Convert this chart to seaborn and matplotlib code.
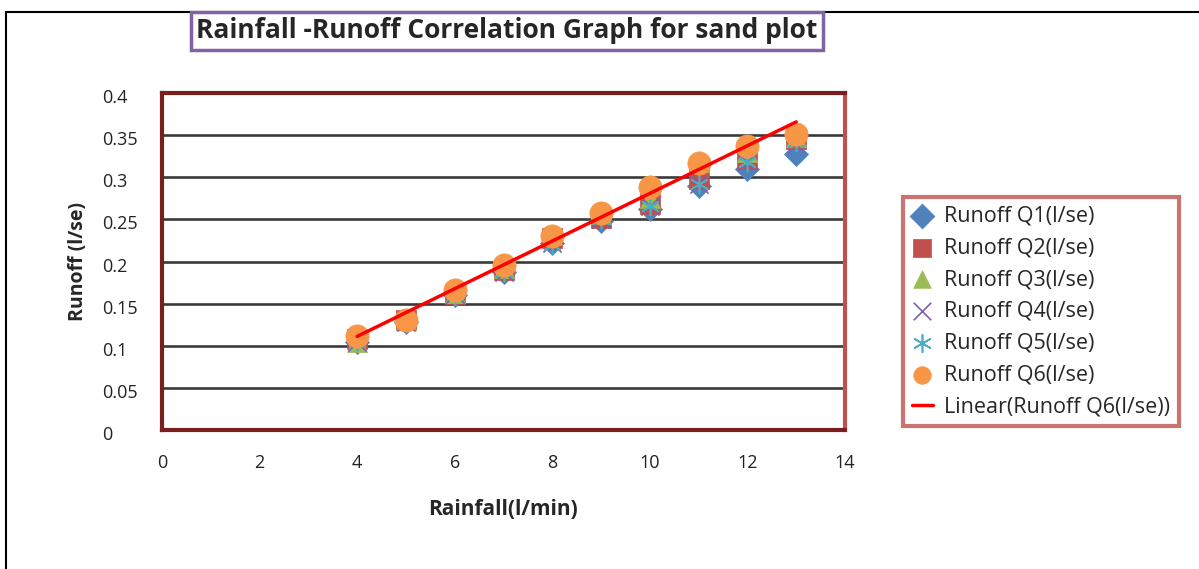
import numpy as np
import pandas as pd
import matplotlib
matplotlib.use('Agg')
import matplotlib.pyplot as plt
import matplotlib.patches as mpatches
import matplotlib.transforms as mtransforms
import seaborn as sns

# data
rainfall = [4, 5, 6, 7, 8, 9, 10, 11, 12, 13]
q1 = [0.105, 0.128, 0.160, 0.188, 0.222, 0.248, 0.262, 0.290, 0.310, 0.328]
q2 = [0.108, 0.130, 0.162, 0.190, 0.228, 0.252, 0.268, 0.298, 0.322, 0.345]
q3 = [0.104, 0.131, 0.163, 0.192, 0.232, 0.256, 0.275, 0.318, 0.330, 0.348]
q4 = [0.104, 0.128, 0.161, 0.188, 0.222, 0.250, 0.266, 0.292, 0.318, 0.340]
q5 = [0.106, 0.129, 0.160, 0.188, 0.220, 0.250, 0.266, 0.292, 0.318, 0.342]
q6 = [0.111, 0.130, 0.166, 0.196, 0.230, 0.258, 0.288, 0.317, 0.337, 0.351]

series_names = ['Runoff Q1(l/se)', 'Runoff Q2(l/se)', 'Runoff Q3(l/se)',
                'Runoff Q4(l/se)', 'Runoff Q5(l/se)', 'Runoff Q6(l/se)']
series_vals = [q1, q2, q3, q4, q5, q6]
colors = ['#4F81BD', '#C0504D', '#9BBB59', '#8064A2', '#4BACC6', '#F79646']
markers = ['D', 's', '^', 'x', (6, 2, 0), 'o']
sizes = [150, 190, 210, 170, 170, 280]

ytick_vals = [0, 0.05, 0.1, 0.15, 0.2, 0.25, 0.3, 0.35, 0.4]
ytick_labels = ['0', '0.05', '0.1', '0.15', '0.2', '0.25', '0.3', '0.35', '0.4']
xtick_vals = [0, 2, 4, 6, 8, 10, 12, 14]

sns.set_style('white')
plt.rcParams['font.family'] = ['Open Sans', 'DejaVu Sans']

fig = plt.figure(figsize=(11.99, 5.69), dpi=100)
ax = fig.add_axes([162 / 1199, 1 - 430 / 569, 683 / 1199, 337 / 569])

for name, vals, c, m, s in zip(series_names, series_vals, colors, markers, sizes):
    if m in ('x', (6, 2, 0)):
        sns.scatterplot(x=rainfall, y=vals, ax=ax, marker=m, color=c, s=s,
                        linewidth=1.2, label=name, zorder=3)
    else:
        sns.scatterplot(x=rainfall, y=vals, ax=ax, marker=m, color=c, s=s,
                        edgecolor=c, linewidth=0.5, label=name, zorder=3)

# linear trendline of Q6
sns.regplot(x=np.array(rainfall), y=np.array(q6), ax=ax, scatter=False, ci=None,
            truncate=True, color='#FF0000', line_kws={'linewidth': 2.5, 'zorder': 4},
            label='Linear(Runoff Q6(l/se))')

ax.set_xlim(0, 14)
ax.set_ylim(0, 0.4)
ax.set_xticks(xtick_vals)
ax.set_yticks(ytick_vals)
ax.set_yticklabels(ytick_labels)
ax.tick_params(axis='x', labelsize=13, length=0, pad=17, labelcolor='#222222')
ax.tick_params(axis='y', labelsize=13, length=0, pad=43, labelcolor='#222222')
shift = mtransforms.ScaledTranslation(0, -3 / 100, fig.dpi_scale_trans)
for lab in ax.get_yticklabels():
    lab.set_horizontalalignment('left')
    lab.set_transform(lab.get_transform() + shift)

ax.yaxis.grid(True, color='#3a3a3a', linewidth=1.9)
ax.set_axisbelow(True)
for side in ['top', 'left', 'bottom']:
    ax.spines[side].set_color('#7B1E1E')
    ax.spines[side].set_linewidth(3)
ax.spines['right'].set_color('#C0504D')
ax.spines['right'].set_linewidth(3)

ax.set_xlabel('Rainfall(l/min)', fontsize=15, fontweight='bold', labelpad=20)
ax.set_ylabel('Runoff (l/se)', fontsize=14, fontweight='bold', labelpad=10)

# title with purple box
fig.text(507 / 1199, 1 - 31 / 569, 'Rainfall -Runoff Correlation Graph for sand plot',
         ha='center', va='center', fontsize=19, fontweight='bold',
         bbox=dict(boxstyle='square,pad=0.2', facecolor='white',
                   edgecolor='#8064A2', linewidth=2.5))

# legend
handles, labels = ax.get_legend_handles_labels()
leg = ax.legend(handles, labels, loc='upper left',
                bbox_to_anchor=(903 / 1199, 1 - 197 / 569),
                bbox_transform=fig.transFigure, frameon=True, fancybox=False,
                prop={'size': 15.5},
                labelspacing=0.5, handlelength=1.0, handletextpad=0.5,
                borderpad=0.4, borderaxespad=0)
leg.get_frame().set_edgecolor('#C0504D')
leg.get_frame().set_linewidth(3)
for h in leg.legend_handles:
    try:
        h.set_sizes([160])
    except AttributeError:
        pass

# outer chart-area frame (top and left edges visible)
fig.add_artist(mpatches.Rectangle((6 / 1199, -0.1), 1.2, 1.1 - 12 / 569,
                                  transform=fig.transFigure, fill=False,
                                  edgecolor='black', linewidth=1.5))

fig.savefig('out.png', dpi=100)
plt.close(fig)
